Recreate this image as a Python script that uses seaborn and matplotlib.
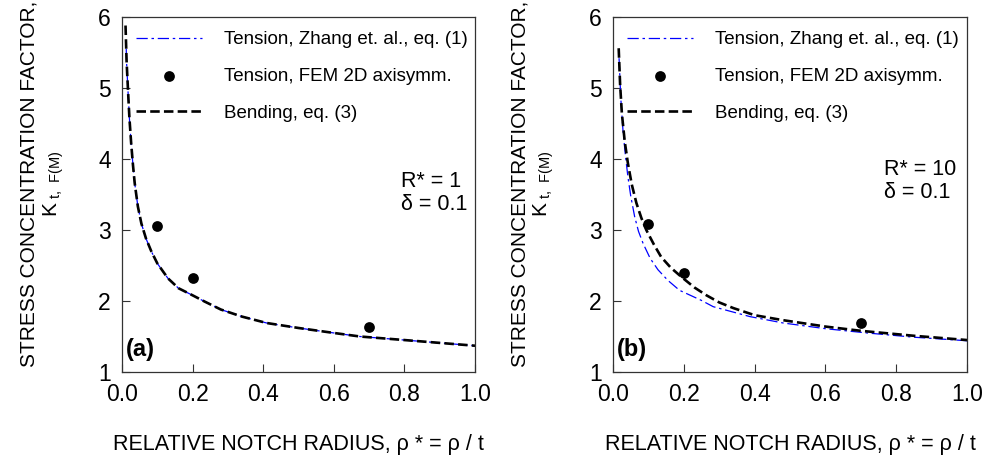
import matplotlib
matplotlib.use("Agg")
import matplotlib.pyplot as plt
import seaborn as sns

# panel (a): R* = 1
a_tens_x = [0.012, 0.013, 0.017, 0.021, 0.026, 0.031, 0.036, 0.045, 0.055, 0.068, 0.083, 0.10, 0.13, 0.16,
            0.20, 0.235, 0.28, 0.34, 0.41, 0.50, 0.60, 0.674, 0.80, 0.90, 1.0]
a_tens_y = [5.55, 5.36, 4.96, 4.57, 4.21, 3.92, 3.66, 3.33, 3.09, 2.88, 2.70, 2.53, 2.32, 2.18,
            2.08, 1.99, 1.88, 1.78, 1.69, 1.62, 1.55, 1.50, 1.45, 1.41, 1.37]
a_bend_x = [0.010, 0.013, 0.017, 0.021, 0.026, 0.031, 0.036, 0.045, 0.055, 0.068, 0.083, 0.10, 0.13, 0.16,
            0.20, 0.235, 0.28, 0.34, 0.41, 0.50, 0.60, 0.674, 0.80, 0.90, 1.0]
a_bend_y = [5.88, 5.38, 4.97, 4.58, 4.22, 3.92, 3.66, 3.33, 3.09, 2.88, 2.70, 2.53, 2.32, 2.18,
            2.08, 1.99, 1.88, 1.78, 1.69, 1.62, 1.55, 1.50, 1.45, 1.41, 1.37]
a_fem_x = [0.1, 0.2, 0.7]
a_fem_y = [3.05, 2.33, 1.63]

# panel (b): R* = 10
b_tens_x = [0.017, 0.022, 0.028, 0.035, 0.042, 0.050, 0.061, 0.072, 0.085, 0.105, 0.127, 0.155, 0.188,
            0.249, 0.283, 0.387, 0.481, 0.60, 0.717, 0.85, 1.0]
b_tens_y = [5.42, 4.85, 4.41, 4.05, 3.75, 3.48, 3.19, 2.98, 2.81, 2.60, 2.44, 2.29, 2.15,
            2.01, 1.92, 1.78, 1.69, 1.61, 1.55, 1.49, 1.44]
b_bend_x = [0.016, 0.020, 0.025, 0.033, 0.042, 0.053, 0.066, 0.080, 0.094, 0.115, 0.136, 0.163, 0.193,
            0.23, 0.264, 0.30, 0.34, 0.40, 0.48, 0.60, 0.70, 0.85, 1.0]
b_bend_y = [5.56, 5.05, 4.64, 4.25, 3.94, 3.64, 3.38, 3.17, 3.00, 2.80, 2.62, 2.47, 2.34,
            2.19, 2.08, 1.98, 1.90, 1.80, 1.73, 1.64, 1.58, 1.51, 1.45]
b_fem_x = [0.1, 0.2, 0.7]
b_fem_y = [3.09, 2.40, 1.69]

x_ticks = [0.0, 0.2, 0.4, 0.6, 0.8, 1.0]
y_ticks = [1, 2, 3, 4, 5, 6]
labels = ["Tension, Zhang et. al., eq. (1)", "Tension, FEM 2D axisymm.", "Bending, eq. (3)"]

sns.set_style("ticks")
plt.rcParams["font.family"] = ["Liberation Sans", "DejaVu Sans"]
plt.rcParams["mathtext.fontset"] = "custom"
plt.rcParams["mathtext.rm"] = "Liberation Sans"
plt.rcParams["text.color"] = "black"
plt.rcParams["axes.labelcolor"] = "black"

fig = plt.figure(figsize=(9.87, 4.62), dpi=100)
ax1 = fig.add_axes([0.1236, 0.1948, 0.3577, 0.7684])
ax2 = fig.add_axes([0.6211, 0.1948, 0.3587, 0.7684])

panels = [
    (ax1, a_tens_x, a_tens_y, a_bend_x, a_bend_y, a_fem_x, a_fem_y, "(a)", "R* = 1\nδ = 0.1", (0.79, 0.565)),
    (ax2, b_tens_x, b_tens_y, b_bend_x, b_bend_y, b_fem_x, b_fem_y, "(b)", "R* = 10\nδ = 0.1", (0.765, 0.60)),
]

for ax, tx, ty, bx, by, fx, fy, tag, note, note_pos in panels:
    sns.lineplot(x=tx, y=ty, ax=ax, color="#0000ff", linewidth=0.9, sort=False)
    tens_line = ax.lines[-1]
    tens_line.set_dashes((9, 3, 2, 3))
    sns.scatterplot(x=fx, y=fy, ax=ax, color="black", s=60, edgecolor="black", linewidth=0, zorder=4)
    fem_pts = ax.collections[-1]
    sns.lineplot(x=bx, y=by, ax=ax, color="black", linewidth=1.9, sort=False)
    bend_line = ax.lines[-1]
    bend_line.set_dashes((3.6, 1.6))

    ax.set_xlim(0, 1)
    ax.set_ylim(1, 6)
    ax.set_xticks(x_ticks)
    ax.set_xticklabels([f"{v:.1f}" for v in x_ticks])
    ax.set_yticks(y_ticks)
    ax.tick_params(direction="in", length=6, width=0.8, labelsize=16.5, pad=8, colors="#333333", labelcolor="black")
    for sp in ax.spines.values():
        sp.set_visible(True)
        sp.set_linewidth(0.9)
        sp.set_color("#333333")

    ax.set_xlabel("RELATIVE NOTCH RADIUS, ρ * = ρ / t", fontsize=15.5, labelpad=20)
    ax.set_ylabel("STRESS CONCENTRATION FACTOR,\nK$_{\\mathregular{\\ t,\\ F(M)}}$", fontsize=15, linespacing=1.15)
    ax.yaxis.set_label_coords(-0.16, 0.53)

    ax.legend([tens_line, fem_pts, bend_line], labels, loc="upper left", frameon=False,
              fontsize=13.5, handlelength=3.5, handletextpad=1.2, labelspacing=1.05,
              borderaxespad=0.35, scatterpoints=1)

    ax.text(note_pos[0], note_pos[1], note, transform=ax.transAxes, fontsize=15.5, va="top", ha="left", linespacing=1.1)
    ax.text(0.012, 0.03, tag, transform=ax.transAxes, fontsize=17, fontweight="bold", va="bottom", ha="left")

fig.savefig("out.png", dpi=100)
